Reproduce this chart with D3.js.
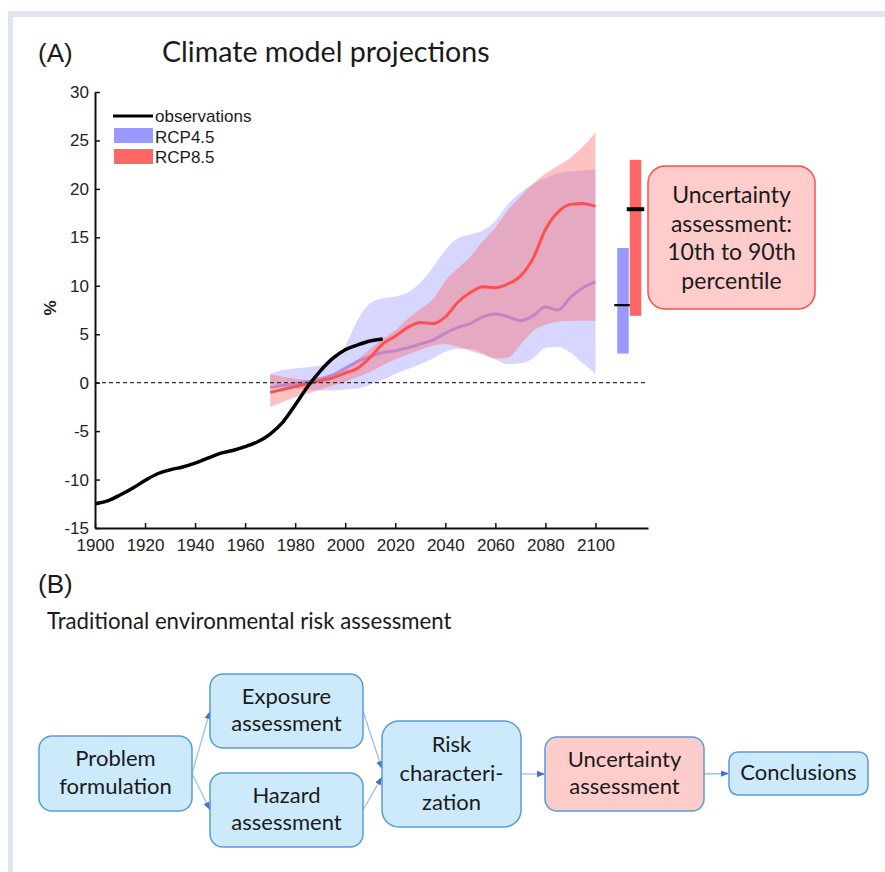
<!DOCTYPE html>
<html lang="en">
<head>
<meta charset="UTF-8">
<title>Climate model projections</title>
<style>
    body { margin: 0; background: #fff; }
    .axis path, .axis line { stroke: #111; }
    .axis path { stroke-width: 2px; }
    .axis line { stroke-width: 1.5px; }
    .axis text { font-family: "Liberation Sans", Arial, sans-serif; font-size: 17px; fill: #222; }
    .arial { font-family: "Liberation Sans", Arial, sans-serif; fill: #1a1a1a; }
    .calibri { font-family: Lato, "Open Sans", sans-serif; fill: #1a1a1a; }
</style>
</head>
<body>
<svg width="885" height="872"></svg>
<script src="https://d3js.org/d3.v7.min.js"></script>
<script>
// observations
const obsYears  = [1900,1905,1910,1915,1920,1925,1930,1935,1940,1945,1950,1955,1960,1965,1970,1975,1980,1985,1990,1995,2000,2005,2010,2015];
const obsValues = [-12.5,-12.2,-11.6,-10.9,-10.1,-9.4,-9.0,-8.7,-8.3,-7.8,-7.3,-7.0,-6.6,-6.1,-5.3,-4.1,-2.3,-0.4,1.2,2.5,3.4,3.9,4.3,4.5];

// model projections, 1970-2100
const projYears = [1970,1975,1980,1985,1990,1995,2000,2005,2010,2015,2020,2025,2030,2035,2040,2045,2050,2055,2060,2065,2070,2075,2080,2085,2090,2095,2100];
const rcp45Mid  = [-0.5,-0.3,-0.1,0.1,0.4,0.8,1.5,2.2,2.7,3.1,3.3,3.6,4.0,4.4,5.1,5.7,6.1,6.8,7.1,6.8,6.4,6.9,7.8,7.5,8.8,9.8,10.4];
const rcp45Low  = [-0.2,-0.4,-0.6,-0.7,-0.8,-0.8,-0.7,-0.6,-0.2,0.3,0.9,1.4,1.9,2.5,3.2,3.5,3.5,3.0,2.4,1.9,2.0,2.5,3.6,3.7,3.1,2.0,0.9];
const rcp45High = [0.9,1.3,1.5,1.6,1.8,2.3,3.8,6.5,8.2,8.7,8.9,9.3,10.3,11.9,13.7,14.9,15.3,15.7,16.7,18.4,19.6,20.5,21.1,21.6,21.8,21.9,22.0];
const rcp85Mid  = [-1.0,-0.7,-0.4,-0.1,0.2,0.5,1.0,1.5,2.6,4.0,4.8,5.7,6.2,6.1,6.8,8.3,9.3,9.9,9.8,10.2,11.0,12.8,15.8,17.6,18.4,18.5,18.2];
const rcp85Low  = [-2.5,-2.0,-1.5,-1.1,-0.7,-0.3,0.1,0.6,1.1,1.8,2.4,2.9,3.4,3.8,4.0,3.7,3.3,2.9,2.5,2.6,3.9,5.3,6.0,6.3,6.4,6.4,6.4];
const rcp85High = [0.9,0.6,0.4,0.3,0.4,0.9,1.5,2.4,3.5,4.5,5.4,6.6,7.6,8.6,10.5,11.8,13.0,14.6,16.0,17.8,19.2,20.5,21.6,22.4,23.2,24.4,25.8];

// end-of-century 10th / 50th / 90th percentile bars
const barNames = ["RCP4.5", "RCP8.5"];
const barYears = [2111, 2116];
const barP10   = [3.0, 6.9];
const barP50   = [8.0, 17.9];
const barP90   = [13.9, 23.0];

const xTicks = [1900,1920,1940,1960,1980,2000,2020,2040,2060,2080,2100];
const yTicks = [-15,-10,-5,0,5,10,15,20,25,30];

// flow chart (B)
const flowLabels = [["Problem","formulation"],["Exposure","assessment"],["Hazard","assessment"],
                    ["Risk","characteri-","zation"],["Uncertainty","assessment"],["Conclusions"]];
const flowLinks = [[0,1],[0,2],[1,3],[2,3],[3,4],[4,5]];

const blue = "#9999ff", red = "#ff6666";

const svg = d3.select("svg");

// page frame
svg.append("rect").attr("x", 8).attr("y", 11).attr("width", 877).attr("height", 6).attr("fill", "#e1e4f2");
svg.append("rect").attr("x", 8).attr("y", 11).attr("width", 5).attr("height", 861).attr("fill", "#e1e4f2");

const x = d3.scaleLinear().domain([1900, 2121]).range([95, 648]);
const y = d3.scaleLinear().domain([-15, 30]).range([528, 92]);

svg.append("text").attr("class", "arial").attr("x", 38).attr("y", 62).attr("font-size", 26).text("(A)");
svg.append("text").attr("class", "calibri").attr("x", 162).attr("y", 62).attr("font-size", 28.6).text("Climate model projections");

const proj = projYears.map((yr, i) => ({
    year: yr, m45: rcp45Mid[i], l45: rcp45Low[i], h45: rcp45High[i],
    m85: rcp85Mid[i], l85: rcp85Low[i], h85: rcp85High[i]
}));
const obs = obsYears.map((yr, i) => ({ year: yr, v: obsValues[i] }));

const band = (lo, hi) => d3.area().x(d => x(d.year)).y0(d => y(d[lo])).y1(d => y(d[hi])).curve(d3.curveMonotoneX);
const line = key => d3.line().x(d => x(d.year)).y(d => y(d[key])).curve(d3.curveMonotoneX);

svg.append("path").datum(proj).attr("d", band("l45", "h45")).attr("fill", blue).attr("fill-opacity", 0.4);
svg.append("path").datum(proj).attr("d", line("m45")).attr("fill", "none").attr("stroke", blue).attr("stroke-width", 3);
svg.append("path").datum(proj).attr("d", band("l85", "h85")).attr("fill", red).attr("fill-opacity", 0.4);
svg.append("path").datum(proj).attr("d", line("m85")).attr("fill", "none").attr("stroke", "#ff5050").attr("stroke-width", 3);

// zero line
svg.append("line")
    .attr("x1", x(1900)).attr("x2", x(2121)).attr("y1", y(0)).attr("y2", y(0))
    .attr("stroke", "#333").attr("stroke-width", 1.3).attr("stroke-dasharray", "4,3");

svg.append("path").datum(obs)
    .attr("d", d3.line().x(d => x(d.year)).y(d => y(d.v)).curve(d3.curveMonotoneX))
    .attr("fill", "none").attr("stroke", "#000").attr("stroke-width", 3.5);

// percentile bars
const barHalf = 2.3; // years
barNames.forEach((name, i) => {
    const c = i === 0 ? blue : red;
    svg.append("rect")
        .attr("x", x(barYears[i] - barHalf)).attr("width", x(barYears[i] + barHalf) - x(barYears[i] - barHalf))
        .attr("y", y(barP90[i])).attr("height", y(barP10[i]) - y(barP90[i]))
        .attr("fill", c);
    svg.append("line")
        .attr("x1", x(barYears[i] - barHalf) - 3).attr("x2", x(barYears[i] + barHalf) + 3)
        .attr("y1", y(barP50[i])).attr("y2", y(barP50[i]))
        .attr("stroke", "#000").attr("stroke-width", i === 0 ? 2.2 : 4);
});

// axes
svg.append("g").attr("class", "axis").attr("transform", "translate(0,528)")
    .call(d3.axisBottom(x).tickValues(xTicks).tickFormat(d => String(d)).tickSizeInner(-5).tickSizeOuter(0).tickPadding(11));
svg.append("g").attr("class", "axis").attr("transform", "translate(95,0)")
    .call(d3.axisLeft(y).tickValues(yTicks).tickFormat(d => String(d)).tickSizeInner(-5).tickSizeOuter(0).tickPadding(6));

svg.append("text").attr("class", "arial").attr("font-size", 17).attr("font-weight", "bold")
    .attr("text-anchor", "middle").attr("transform", "translate(56,308) rotate(-90)").text("%");

// legend
const leg = svg.append("g").attr("class", "arial").attr("font-size", 17);
leg.append("line").attr("x1", 113).attr("x2", 153).attr("y1", 116).attr("y2", 116).attr("stroke", "#000").attr("stroke-width", 3);
leg.append("text").attr("x", 155).attr("y", 122).text("observations");
leg.append("rect").attr("x", 114).attr("y", 128).attr("width", 39).attr("height", 15).attr("fill", blue);
leg.append("text").attr("x", 155).attr("y", 142.5).text("RCP4.5");
leg.append("rect").attr("x", 114).attr("y", 149).attr("width", 39).attr("height", 15).attr("fill", red);
leg.append("text").attr("x", 155).attr("y", 163).text("RCP8.5");

// callout
svg.append("rect").attr("x", 648).attr("y", 166).attr("width", 167).attr("height", 143).attr("rx", 17)
    .attr("fill", "#ffcccc").attr("stroke", "#ff4d4d").attr("stroke-width", 1.5);
const callout = ["Uncertainty", "assessment:", "10th to 90th", "percentile"];
svg.append("g").attr("class", "calibri").attr("font-size", 23).attr("text-anchor", "middle")
    .selectAll("text").data(callout).enter().append("text")
    .attr("x", 731.5).attr("y", (d, i) => 203 + i * 28.5).text(d => d);

// (B)
svg.append("text").attr("class", "arial").attr("x", 38).attr("y", 593).attr("font-size", 26).text("(B)");
svg.append("text").attr("class", "calibri").attr("x", 47).attr("y", 629).attr("font-size", 22.2).text("Traditional environmental risk assessment");

const boxes = [
    { x: 39,  y: 736, w: 153, h: 75,  r: 13 },
    { x: 210, y: 674, w: 153, h: 74,  r: 13 },
    { x: 210, y: 773, w: 153, h: 74,  r: 13 },
    { x: 382, y: 721, w: 139, h: 106, r: 17 },
    { x: 545, y: 737, w: 159, h: 74,  r: 12 },
    { x: 729, y: 752, w: 139, h: 43,  r: 9 }
];
const fills = ["#cdeafd", "#cdeafd", "#cdeafd", "#cdeafd", "#ffcccc", "#cdeafd"];

svg.append("defs").append("marker")
    .attr("id", "arrow").attr("viewBox", "0 0 8 8").attr("refX", 8).attr("refY", 4)
    .attr("markerWidth", 8).attr("markerHeight", 8).attr("markerUnits", "userSpaceOnUse").attr("orient", "auto")
    .append("path").attr("d", "M0,0.8 L8,4 L0,7.2 z").attr("fill", "#4472c4");

const fanIn = [0, 0, -5, 3, 0, 0];
flowLinks.forEach(([s, t], i) => {
    const a = boxes[s], b = boxes[t];
    svg.append("line")
        .attr("x1", a.x + a.w).attr("y1", a.y + a.h / 2)
        .attr("x2", b.x).attr("y2", b.y + b.h / 2 + fanIn[i])
        .attr("stroke", "#9cc0e8").attr("stroke-width", 1.3).attr("marker-end", "url(#arrow)");
});

const node = svg.append("g").selectAll("g").data(flowLabels).enter().append("g");
node.append("rect")
    .attr("x", (d, i) => boxes[i].x).attr("y", (d, i) => boxes[i].y)
    .attr("width", (d, i) => boxes[i].w).attr("height", (d, i) => boxes[i].h)
    .attr("rx", (d, i) => boxes[i].r)
    .attr("fill", (d, i) => fills[i]).attr("stroke", "#5b9bd5").attr("stroke-width", 1.5);
node.each(function (lines, i) {
    const b = boxes[i], cy = b.y + b.h / 2, lh = lines.length === 3 ? 29 : 27.5;
    d3.select(this).selectAll("text").data(lines).enter().append("text")
        .attr("class", "calibri").attr("font-size", 22).attr("text-anchor", "middle")
        .attr("x", b.x + b.w / 2)
        .attr("y", (d, k) => cy + (k - (lines.length - 1) / 2) * lh + 6.6)
        .text(d => d);
});
</script>
</body>
</html>
